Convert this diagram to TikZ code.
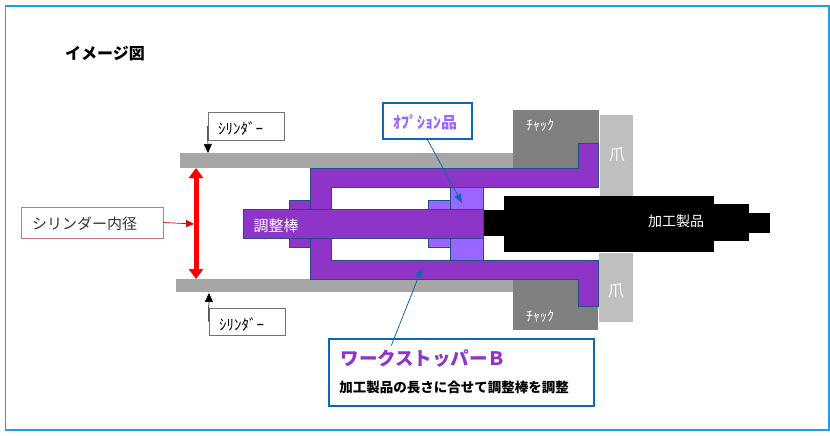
\documentclass[tikz,border=0pt]{standalone}
\usepackage{fontspec}
\setmainfont{Noto Sans CJK JP}
\usetikzlibrary{arrows.meta}
\definecolor{framesky}{RGB}{30,160,230}
\definecolor{cylgray}{RGB}{166,166,166}
\definecolor{chuckgray}{RGB}{128,128,128}
\definecolor{clawgray}{RGB}{191,191,191}
\definecolor{stopperpurple}{RGB}{142,53,200}
\definecolor{optionpurple}{RGB}{153,102,255}
\definecolor{edgeblue}{RGB}{31,78,140}
\definecolor{calloutblue}{RGB}{11,105,175}
\definecolor{labelrose}{RGB}{200,120,120}
\tikzset{
    partedge/.style={draw=edgeblue, line width=1pt},
    calloutbox/.style={draw=calloutblue, line width=1.6pt, fill=white, inner sep=0pt},
    labelbox/.style={draw=black!55, line width=0.7pt, fill=white, inner sep=0pt},
    whitetext/.style={text=white, inner sep=0pt}
}

\begin{document}
\begin{tikzpicture}[x=1pt, y=-1pt]
    \useasboundingbox (0,0) rectangle (830,436);
    \fill[white] (0,0) rectangle (830,436);
    \draw[framesky, line width=1.6pt] (5.5,6) rectangle (829,430);

    \node[inner sep=0pt, font=\fontsize{16}{18}\selectfont\bfseries] (title) at (105,53.5) {イメージ図};

    % Cylinder walls
    \fill[cylgray] (180,153) rectangle (516,168);
    \fill[cylgray] (176,279) rectangle (516,292);

    % Chucks and claws
    \fill[chuckgray] (513,110) rectangle (599,168);
    \fill[chuckgray] (513,280) rectangle (598,330);
    \fill[clawgray] (600,115) rectangle (633,196);
    \fill[clawgray] (599,253) rectangle (633,322);
    \node[whitetext, font=\fontsize{14}{16}\selectfont] (chucktop) at (540,125) {ﾁｬｯｸ};
    \node[whitetext, font=\fontsize{14}{16}\selectfont] (chuckbottom) at (540,316) {ﾁｬｯｸ};
    \node[whitetext, font=\fontsize{16}{18}\selectfont] (clawtop) at (617,155) {爪};
    \node[whitetext, font=\fontsize{16}{18}\selectfont] (clawbottom) at (616,291) {爪};

    % Workpiece
    \fill[black] (484,210) rectangle (504,236);
    \fill[black] (504,196) rectangle (714,252);
    \fill[black] (714,204) rectangle (749,241);
    \fill[black] (749,213) rectangle (770,233);
    \node[whitetext, font=\fontsize{14}{16}\selectfont] (workpiece) at (676,221) {加工製品};

    % Work stopper body
    \filldraw[stopperpurple, partedge] (578,143) -- (598,143) -- (598,187) -- (331,187) -- (331,260)
        -- (598,260) -- (598,306) -- (578,306) -- (578,279) -- (310,279) -- (310,168) -- (578,168) -- cycle;
    \filldraw[stopperpurple, partedge] (289,200) rectangle (310,247);

    % Optional parts
    \filldraw[optionpurple, partedge] (450,187) rectangle (483,260);
    \filldraw[optionpurple, partedge] (428,200) rectangle (450,247);

    % Adjusting rod
    \filldraw[stopperpurple, partedge] (243,209) rectangle (483,238);
    \node[whitetext, font=\fontsize{15}{17}\selectfont] (rod) at (276,226) {調整棒};

    % Bore label
    \coordinate (boretop) at (196,168);
    \coordinate (borebottom) at (196,279);
    \coordinate (boretip) at (194,224);
    \draw[{Triangle[width=14pt,length=10pt]}-{Triangle[width=14pt,length=10pt]}, red, line width=5pt] (boretop) -- (borebottom);
    \node[draw=labelrose, line width=0.8pt, fill=white, minimum width=142pt, minimum height=31pt, inner sep=0pt, text=black!80] (borelabel) at (92,222.5) {};
    \node[inner sep=0pt, text=black!80, font=\fontsize{15}{17}\selectfont] (boretext) at (84.5,224) {シリンダー内径};
    \draw[-{Triangle[width=7pt,length=8pt]}, red!85!black, line width=0.7pt] (borelabel.east) -- (boretip);

    % Cylinder labels
    \coordinate (cyltoptip) at (208,153);
    \coordinate (cylbottomtip) at (209,293);
    \node[labelbox, minimum width=76pt, minimum height=28pt] (cyltop) at (246,126) {};
    \node[labelbox, minimum width=76pt, minimum height=27pt] (cylbottom) at (247,321.5) {};
    \node[inner sep=0pt, font=\fontsize{15}{17}\selectfont] (cyltoptext) at (240.5,129) {ｼﾘﾝﾀﾞｰ};
    \node[inner sep=0pt, font=\fontsize{15}{17}\selectfont] (cylbottomtext) at (241.5,325) {ｼﾘﾝﾀﾞｰ};
    \draw[-{Triangle[width=8pt,length=9pt]}, black, line width=0.7pt] (cyltop.west) -- (cyltoptip);
    \draw[-{Triangle[width=8pt,length=9pt]}, black, line width=0.7pt] (cylbottom.west) -- (cylbottomtip);

    % Callouts
    \coordinate (optiontip) at (462,203);
    \coordinate (stoppertip) at (422,268);
    \node[calloutbox, minimum width=89pt, minimum height=36pt] (optionbox) at (427.5,121) {};
    \node[inner sep=0pt, text=optionpurple, font=\fontsize{16}{18}\selectfont\bfseries] (optiontext) at (425,122) {ｵﾌﾟｼｮﾝ品};
    \node[calloutbox, minimum width=265pt, minimum height=67pt] (stopperbox) at (461.5,372.5) {};
    \node[inner sep=0pt, text=stopperpurple, font=\fontsize{18.5}{20}\selectfont\bfseries] (stoppertitle) at (423.5,359) {ワークストッパーＢ};
    \node[inner sep=0pt, font=\fontsize{13.5}{15}\selectfont\bfseries] (stoppernote) at (454,387) {加工製品の長さに合せて調整棒を調整};
    \draw[-{Triangle[width=7pt,length=9pt]}, calloutblue, line width=0.8pt] (optionbox.south) -- (optiontip);
    \draw[-{Triangle[width=7pt,length=9pt]}, calloutblue, line width=0.8pt, shorten <=-8pt] (stopperbox.153) -- (stoppertip);
\end{tikzpicture}
\end{document}
